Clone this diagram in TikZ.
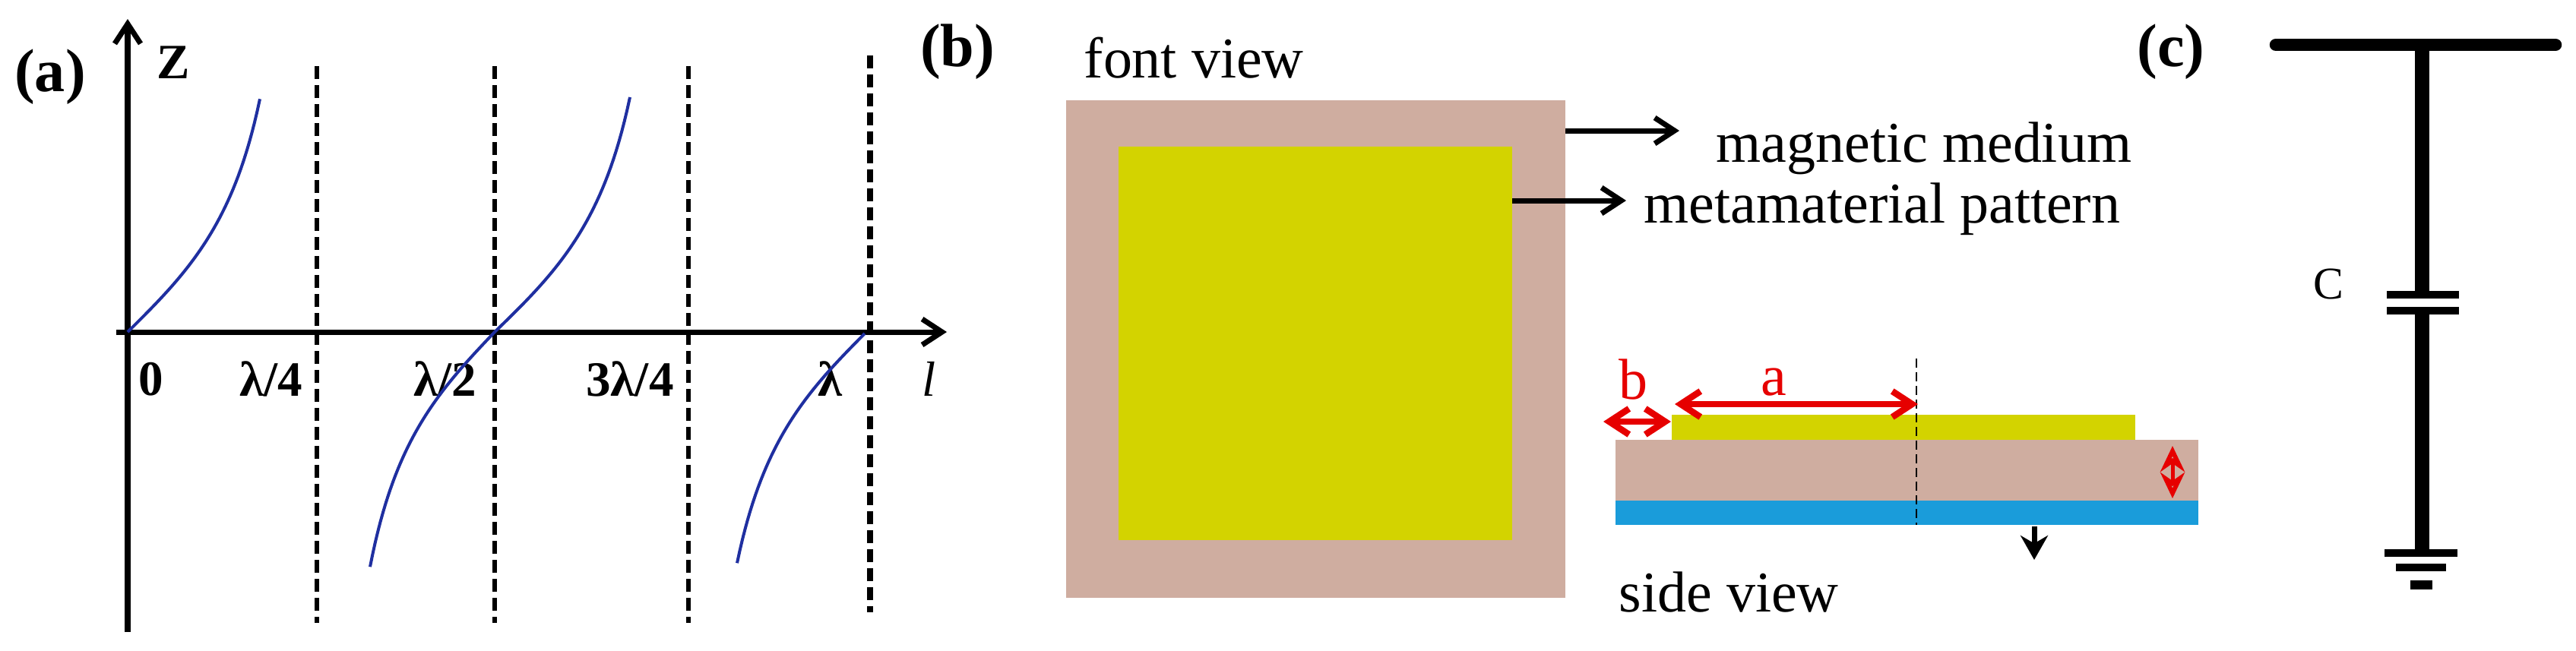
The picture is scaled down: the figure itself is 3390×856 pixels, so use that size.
\documentclass[tikz,border=0pt]{standalone}
\usepackage{fontspec}
\setmainfont{Liberation Serif}
\usepackage{tikz}
\usetikzlibrary{arrows.meta}
\tikzset{>={Straight Barb[length=2.6mm,width=3.4mm]}}
\definecolor{mediumcol}{HTML}{CFADA0}
\definecolor{patterncol}{HTML}{D3D300}
\definecolor{groundcol}{HTML}{1A9CDA}
\definecolor{curvecol}{HTML}{1F2FA0}
\definecolor{dimcol}{HTML}{E60000}
\tikzset{
  panel/.style={font=\fontsize{22.8}{26}\selectfont\bfseries},
  axislabel/.style={font=\fontsize{18.5}{22}\selectfont\bfseries},
  caption/.style={font=\fontsize{21.6}{25}\selectfont, anchor=base west, inner sep=0pt},
  dimlabel/.style={font=\fontsize{21.6}{25}\selectfont, anchor=base, inner sep=0pt, text=dimcol},
  axisline/.style={line width=0.7mm},
  asymptote/.style={line width=0.6mm, dash pattern=on 1.7mm off 0.8mm},
  branch/.style={line width=0.4mm, curvecol, samples=50},
  wire/.style={line width=1.9mm},
  plate/.style={line width=1mm},
  redarrow/.style={<->, dimcol, line width=0.85mm}
}

\begin{document}
\begin{tikzpicture}[x=0.01cm, y=-0.01cm]
  \useasboundingbox (0,0) rectangle (3390,856);

  % (a)
  \node[panel] (PA) at (66,101) {(a)};
  \node[axislabel] (Z) at (228,82) {Z};
  \node[axislabel] (ZERO) at (199,499) {0};
  \node[axislabel] (LA) at (357,499) {λ/4};
  \node[axislabel] (LB) at (586,499) {λ/2};
  \node[axislabel] (LC) at (829,499) {3λ/4};
  \node[axislabel] (LD) at (1092,499) {λ};
  \node[axislabel, font=\fontsize{18.5}{22}\selectfont\itshape] (LL) at (1223,499) {l};

  \coordinate (YS) at (168,832);
  \coordinate (YE) at (168,25);
  \coordinate (XS) at (153,437);
  \coordinate (XE) at (1246,437);
  \draw[->, axisline] (YS) -- (YE);
  \draw[->, axisline] (XS) -- (XE);

  \foreach \x/\a/\b in {417/87/820, 651/87/820, 906/87/820}
    \draw[asymptote] (\x,\a) -- (\x,\b);
  \draw[asymptote, line width=0.8mm] (1145,73) -- (1145,806);

  \draw[branch, domain=168:342] plot (\x, {437-157*tan(90*(\x-168)/249)});
  \draw[branch, domain=487:651] plot (\x, {437-157*tan(90*(\x-651)/234)});
  \draw[branch, domain=651:829] plot (\x, {437-157*tan(90*(\x-651)/254)});
  \draw[branch, domain=970:1138] plot (\x, {437-157*tan(90*(\x-1140)/244)});

  % (b)
  \node[panel] (PB) at (1260,68) {(b)};
  \node[caption] (FRONT) at (1426,102) {font view};
  \fill[mediumcol] (1403,132) rectangle (2060,787);
  \fill[patterncol] (1472,193) rectangle (1990,711);

  \coordinate (MS) at (2060,172);
  \coordinate (ME) at (2210,172);
  \coordinate (PS) at (1990,264);
  \coordinate (PE) at (2140,264);
  \draw[->, axisline] (MS) -- (ME);
  \draw[->, axisline] (PS) -- (PE);
  \node[caption] (MEDIUM) at (2258,213) {magnetic medium};
  \node[caption] (PATTERN) at (2163,293) {metamaterial pattern};

  \fill[patterncol] (2200,546) rectangle (2810,579);
  \fill[mediumcol] (2126,579) rectangle (2893,659);
  \fill[groundcol] (2126,659) rectangle (2893,691);
  \draw[line width=0.2mm, dash pattern=on 1.2mm off 0.6mm] (2522,472) -- (2522,691);

  \coordinate (AS) at (2204,532);
  \coordinate (AE) at (2524,532);
  \coordinate (BS) at (2110,555);
  \coordinate (BE) at (2199,555);
  \coordinate (TS) at (2859,587);
  \coordinate (TE) at (2859,656);
  \draw[redarrow] (AS) -- (AE);
  \draw[redarrow] (BS) -- (BE);
  \draw[<->, dimcol, line width=0.5mm, >={Stealth[length=3.4mm,width=3.2mm,open,line width=0.7mm]}] (TS) -- (TE);
  \node[dimlabel] (LENA) at (2334,520) {a};
  \node[dimlabel] (LENB) at (2149,525) {b};

  \coordinate (DS) at (2677,693);
  \coordinate (DE) at (2677,737);
  \draw[-{Stealth[length=3.2mm,width=3.6mm]}, line width=0.7mm] (DS) -- (DE);
  \node[caption] (SIDE) at (2130,805) {side view};

  % (c)
  \node[panel] (PC) at (2857,68) {(c)};
  \node[font=\fontsize{17}{20}\selectfont] (C) at (3064,374) {C};

  \coordinate (TL) at (2995,59);
  \coordinate (TR) at (3363,59);
  \coordinate (TM) at (3187,59);
  \coordinate (CA) at (3187,388);
  \coordinate (CB) at (3187,409);
  \coordinate (GM) at (3187,728);
  \draw[line width=1.65mm, line cap=round] (TL) -- (TR);
  \draw[wire] (TM) -- (CA);
  \draw[wire] (CB) -- (GM);
  \draw[plate] (3141,388) -- (3236,388);
  \draw[plate] (3141,409) -- (3236,409);
  \draw[plate] (3138,728) -- (3234,728);
  \draw[plate] (3153,747) -- (3219,747);
  \draw[line width=1.2mm] (3172,770) -- (3201,770);
\end{tikzpicture}
\end{document}
